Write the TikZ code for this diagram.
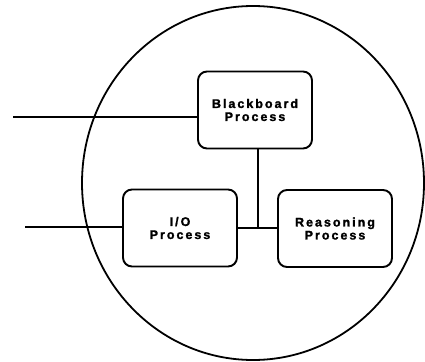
\documentclass[tikz,border=0pt]{standalone}
\usepackage{fontspec}
\setmainfont{Liberation Sans}
\begin{document}
\begin{tikzpicture}[x=1pt,y=-1pt,
  proc/.style={draw=black,line width=1.9pt,rounded corners=9pt,minimum width=114pt,minimum height=77pt,inner sep=0pt,align=center,
    font=\fontsize{12.5}{13}\selectfont\bfseries\addfontfeatures{LetterSpace=16,FakeBold=1.5}},
  wire/.style={line width=1.8pt}]
\useasboundingbox (0,0) rectangle (425,361);
\draw[line width=1.8pt] (253,183) ellipse [x radius=171pt, y radius=177pt];
\node[proc] (bb) at (255,110) {Blackboard\\Process};
\node[proc] (io) at (180,228) {I/O\\Process};
\node[proc] (rp) at (335,228.5) {Reasoning\\Process};
\coordinate (in1) at (13,117);
\coordinate (in2) at (25,227);
\coordinate (j) at (258,228);
\draw[wire] (in1) -- (in1 -| bb.west);
\draw[wire] (in2) -- (in2 -| io.west);
\draw[wire] (io.east |- j) -- (rp.west |- j);
\draw[wire] (bb.south -| j) -- (j);
\end{tikzpicture}
\end{document}
